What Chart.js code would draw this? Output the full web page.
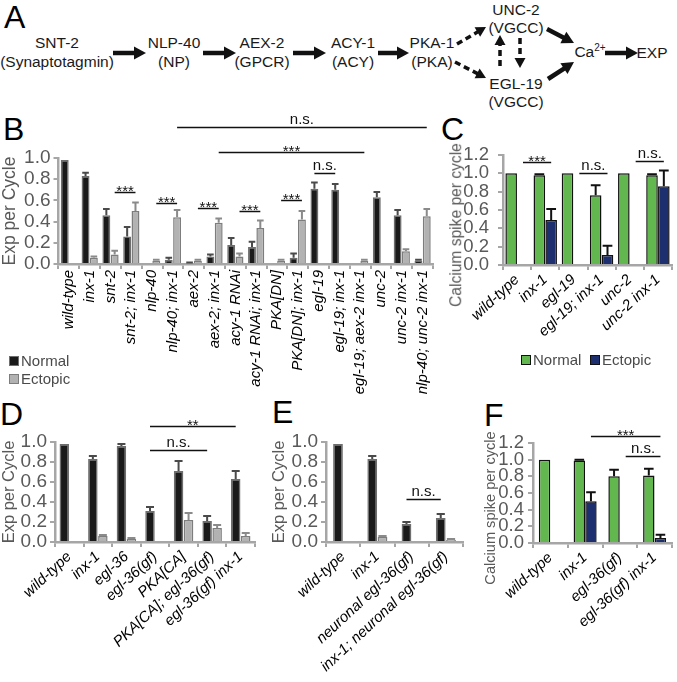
<!DOCTYPE html>
<html><head><meta charset="utf-8">
<script src="https://cdn.jsdelivr.net/npm/chart.js@4.4.1/dist/chart.umd.min.js"></script>
<style>
html,body{margin:0;padding:0;background:#fff;}
body{width:677px;height:682px;position:relative;overflow:hidden;font-family:"Liberation Sans",Arial,sans-serif;}
canvas{position:absolute;}
.lbl{position:absolute;transform:translate(-50%,-50%);white-space:nowrap;font-size:15.5px;line-height:1;color:#1a1a1a;}
.panel{position:absolute;font-size:32px;line-height:1;color:#000;}
.leg{position:absolute;font-size:15px;line-height:1;color:#4a4a4a;white-space:nowrap;}
.sq{position:absolute;width:8px;height:8px;}
.ytitle{position:absolute;transform:translate(-50%,-50%) rotate(-90deg);white-space:nowrap;line-height:1;color:#595959;}
svg{position:absolute;left:0;top:0;}
</style></head><body>
<svg id="diag" width="677" height="112"></svg>
<div class="panel" style="left:4px;top:1px">A</div>
<div class="lbl" style="left:57px;top:43px">SNT-2</div>
<div class="lbl" style="left:57px;top:62px">(Synaptotagmin)</div>
<div class="lbl" style="left:174px;top:43px">NLP-40</div>
<div class="lbl" style="left:174px;top:62px">(NP)</div>
<div class="lbl" style="left:262px;top:43px">AEX-2</div>
<div class="lbl" style="left:262px;top:62px">(GPCR)</div>
<div class="lbl" style="left:353px;top:43px">ACY-1</div>
<div class="lbl" style="left:353px;top:62px">(ACY)</div>
<div class="lbl" style="left:432px;top:43px">PKA-1</div>
<div class="lbl" style="left:432px;top:62px">(PKA)</div>
<div class="lbl" style="left:516px;top:10px">UNC-2</div>
<div class="lbl" style="left:516px;top:28px">(VGCC)</div>
<div class="lbl" style="left:516px;top:84px">EGL-19</div>
<div class="lbl" style="left:516px;top:102px">(VGCC)</div>
<div class="lbl" style="left:590px;top:52px">Ca<sup style="font-size:10px;vertical-align:6px;line-height:0">2+</sup></div>
<div class="lbl" style="left:652px;top:53px">EXP</div>

<div class="panel" style="left:3px;top:113px">B</div>
<div class="panel" style="left:441px;top:113px">C</div>
<div class="panel" style="left:0px;top:398px">D</div>
<div class="panel" style="left:272px;top:396px">E</div>
<div class="panel" style="left:484px;top:399px">F</div>

<canvas id="cB" width="445" height="290" style="left:0;top:110px"></canvas>
<canvas id="cC" width="230" height="290" style="left:447px;top:110px"></canvas>
<canvas id="cD" width="265" height="282" style="left:0;top:400px"></canvas>
<canvas id="cE" width="200" height="282" style="left:270px;top:400px"></canvas>
<canvas id="cF" width="197" height="282" style="left:480px;top:400px"></canvas>

<div class="ytitle" style="left:456px;top:225px;font-size:15.6px">Calcium spike per cycle</div>
<div class="ytitle" style="left:490px;top:508px;font-size:14.6px">Calcium spike per cycle</div>

<div class="sq" style="left:9px;top:356px;background:#1a1a1a;border:1.5px solid #6e6e6e"></div>
<div class="leg" style="left:21px;top:353px">Normal</div>
<div class="sq" style="left:9px;top:374px;background:#b2b2b2;border:1.5px solid #7d7d7d"></div>
<div class="leg" style="left:21px;top:371px">Ectopic</div>

<div class="sq" style="left:521px;top:355px;background:#62b74f;border:1.5px solid #111"></div>
<div class="leg" style="left:533px;top:352px">Normal</div>
<div class="sq" style="left:590px;top:355px;background:#1d2f6f;border:1.5px solid #111"></div>
<div class="leg" style="left:602px;top:352px">Ectopic</div>

<script>
// ---------- DATA ----------
const bCategories = ['wild-type','inx-1','snt-2','snt-2; inx-1','nlp-40','nlp-40; inx-1','aex-2','aex-2; inx-1','acy-1 RNAi','acy-1 RNAi; inx-1','PKA[DN]','PKA[DN]; inx-1','egl-19','egl-19; inx-1','egl-19; aex-2 inx-1','unc-2','unc-2 inx-1','nlp-40; unc-2 inx-1'];
const bNormal      = [0.98,0.83,0.46,0.26,0.00,0.04,0.01,0.07,0.18,0.16,0.00,0.06,0.71,0.70,0.00,0.63,0.46,0.03];
const bNormalErr   = [0,0.03,0.06,0.09,0,0.02,0.005,0.02,0.065,0.05,0,0.04,0.06,0.055,0,0.05,0.05,0.01];
const bEctopic     = [0,0.06,0.09,0.50,0.03,0.44,0.03,0.39,0.07,0.34,0.03,0.42,0,0,0.03,0,0.12,0.45];
const bEctopicErr  = [0,0.01,0.035,0.08,0.01,0.07,0.01,0.04,0.03,0.07,0.01,0.08,0,0,0.01,0,0.02,0.07];

const cCategories = ['wild-type','inx-1','egl-19','egl-19; inx-1','unc-2','unc-2 inx-1'];
const cNormal     = [1.00,0.98,1.00,0.76,1.00,0.98];
const cNormalErr  = [0,0.01,0,0.11,0,0.01];
const cEctopic    = [0,0.49,0,0.11,0,0.86];
const cEctopicErr = [0,0.12,0,0.10,0,0.17];

const dCategories = ['wild-type','inx-1','egl-36','egl-36(gf)','PKA[CA]','PKA[CA]; egl-36(gf)','egl-36(gf) inx-1'];
const dNormal     = [0.98,0.83,0.96,0.31,0.71,0.21,0.63];
const dNormalErr  = [0,0.03,0.02,0.04,0.10,0.05,0.08];
const dEctopic    = [0,0.06,0.03,0,0.22,0.14,0.06];
const dEctopicErr = [0,0.01,0.01,0,0.07,0.03,0.03];

const eCategories = ['wild-type','inx-1','neuronal egl-36(gf)','inx-1; neuronal egl-36(gf)'];
const eNormal     = [0.98,0.83,0.18,0.24];
const eNormalErr  = [0,0.03,0.02,0.04];
const eEctopic    = [0,0.05,0,0.02];
const eEctopicErr = [0,0.01,0,0.01];

const fCategories = ['wild-type','inx-1','egl-36(gf)','egl-36(gf) inx-1'];
const fNormal     = [1.00,0.99,0.80,0.81];
const fNormalErr  = [0,0.01,0.08,0.08];
const fEctopic    = [0,0.50,0,0.06];
const fEctopicErr = [0,0.11,0,0.04];

const seriesNames = ['Normal','Ectopic'];
const expMax = 1.0, calMax = 1.2, tickStep = 0.2;

// ---------- STYLE ----------
const FONT = '"Liberation Sans", Arial, sans-serif';
const AX = '#a6a6a6';
const grayStyle = [
  {bg:'#1a1a1a', border:'#6e6e6e', err:'#4a4a4a'},
  {bg:'#b2b2b2', border:'#7d7d7d', err:'#8a8a8a'}
];
const colorStyle = [
  {bg:'#62b74f', border:'#111111', err:'#111111'},
  {bg:'#1d2f6f', border:'#111111', err:'#111111'}
];

// ---------- DIAGRAM (panel A) ----------
const ns = 'http://www.w3.org/2000/svg';
const svg = document.getElementById('diag');
function arrow(x1,y1,x2,y2,dashed){
  const dx=x2-x1, dy=y2-y1, L=Math.hypot(dx,dy), ux=dx/L, uy=dy/L;
  const hl=dashed?10:12, hw=dashed?5.5:6.5;
  const bx=x2-ux*hl, by=y2-uy*hl;
  const ln=document.createElementNS(ns,'line');
  ln.setAttribute('x1',x1); ln.setAttribute('y1',y1);
  ln.setAttribute('x2',bx+ux*1); ln.setAttribute('y2',by+uy*1);
  ln.setAttribute('stroke','#111'); ln.setAttribute('stroke-width',dashed?3.5:4.5);
  if(dashed) ln.setAttribute('stroke-dasharray','6,4');
  svg.appendChild(ln);
  const p=document.createElementNS(ns,'polygon');
  p.setAttribute('points',`${x2},${y2} ${bx-uy*hw},${by+ux*hw} ${bx+uy*hw},${by-ux*hw}`);
  p.setAttribute('fill','#111');
  svg.appendChild(p);
}
arrow(113,53,146,53,false);
arrow(203,53,236,53,false);
arrow(293,53,326,53,false);
arrow(378,53,409,53,false);
arrow(605,53,638,53,false);
arrow(457,44,486,27,true);
arrow(455,62,486,78,true);
arrow(500,66,500,35,true);
arrow(520,38,520,68,true);
arrow(547,29,574,43,false);
arrow(548,79,574,62,false);

// ---------- PLUGINS ----------
const errPlugin = {id:'errbars', afterDatasetsDraw(chart){
  const ctx=chart.ctx, ys=chart.scales.y;
  chart.data.datasets.forEach((ds,i)=>{
    const meta=chart.getDatasetMeta(i);
    meta.data.forEach((el,j)=>{
      const e=ds.errors[j]; if(!e) return;
      const v=ds.data[j];
      const y0=ys.getPixelForValue(v), y1=ys.getPixelForValue(v+e);
      const hw=el.width*0.42;
      ctx.save(); ctx.strokeStyle=ds.errColor; ctx.lineWidth=2;
      ctx.beginPath(); ctx.moveTo(el.x,y0); ctx.lineTo(el.x,y1);
      ctx.moveTo(el.x-hw,y1); ctx.lineTo(el.x+hw,y1); ctx.stroke(); ctx.restore();
    });
  });
}};
const annotPlugin = {id:'annot', afterDraw(chart,args,opts){
  const ctx=chart.ctx, ys=chart.scales.y;
  (opts.items||[]).forEach(it=>{
    const xa=chart.getDatasetMeta(it.a[1]).data[it.a[0]].x;
    const xb=chart.getDatasetMeta(it.b[1]).data[it.b[0]].x;
    const py=Math.round(ys.getPixelForValue(it.y))+0.5;
    ctx.save(); ctx.strokeStyle='#111'; ctx.lineWidth=1.5;
    ctx.beginPath(); ctx.moveTo(xa,py); ctx.lineTo(xb,py); ctx.stroke();
    ctx.fillStyle='#111'; ctx.font='15px '+FONT; ctx.textAlign='center'; ctx.textBaseline='alphabetic';
    ctx.fillText(it.t,(xa+xb)/2, it.t.charAt(0)==='*' ? py+3 : py-4);
    ctx.restore();
  });
}};

function makeChart(id, cats, vals, errs, style, cfg){
  new Chart(document.getElementById(id), {
    type:'bar',
    data:{labels:cats, datasets: vals.map((d,i)=>({
      label:seriesNames[i], data:d, errors:errs[i],
      backgroundColor:style[i].bg, borderColor:style[i].border, borderWidth:cfg.bw,
      errColor:style[i].err, categoryPercentage:cfg.catPct, barPercentage:cfg.barPct
    }))},
    options:{
      responsive:false, animation:false,
      layout:{padding:{top:cfg.padTop,right:cfg.padRight,left:0,bottom:0}},
      plugins:{legend:{display:false}, tooltip:{enabled:false}, annot:{items:cfg.annot}},
      scales:{
        x:{ticks:{autoSkip:false,minRotation:cfg.rot,maxRotation:cfg.rot,
                  font:{size:cfg.xFont,style:'italic',family:FONT},color:'#000',padding:1},
           grid:{offset:true,drawOnChartArea:false,drawTicks:true,tickLength:5,color:AX,lineWidth:2},
           border:{display:true,color:AX,width:2.5},
           afterFit:s=>{s.height=cfg.xH;}},
        y:{min:0,max:cfg.max,
           ticks:{autoSkip:false,stepSize:tickStep,callback:v=>Number(v).toFixed(1),font:{size:cfg.yFont,family:FONT},color:'#595959',padding:cfg.yPad},
           grid:{drawOnChartArea:false,drawTicks:true,tickLength:5,color:AX,lineWidth:2},
           border:{display:true,color:AX,width:2.5},
           title:{display:!!cfg.yTitle,text:cfg.yTitle||'',color:'#595959',font:{size:cfg.titleFont,family:FONT},padding:0},
           afterFit:s=>{s.width=cfg.yW;}}
      }
    },
    plugins:[errPlugin, annotPlugin]
  });
}

makeChart('cB', bCategories, [bNormal,bEctopic], [bNormalErr,bEctopicErr], grayStyle, {
  bw:1.5, catPct:0.8, barPct:0.95, padTop:48, padRight:12, rot:90, xFont:15, xH:136,
  max:expMax, yFont:19, yPad:3, yTitle:'Exp per Cycle', titleFont:17.5, yW:58.5,
  annot:[
    {a:[5,1],b:[17,1],y:1.29,t:'n.s.'},
    {a:[7,1],b:[14,1],y:1.06,t:'***'},
    {a:[12,0],b:[13,0],y:0.86,t:'n.s.'},
    {a:[2,1],b:[3,1],y:0.68,t:'***'},
    {a:[4,1],b:[5,1],y:0.58,t:'***'},
    {a:[6,1],b:[7,1],y:0.525,t:'***'},
    {a:[8,1],b:[9,1],y:0.50,t:'***'},
    {a:[10,1],b:[11,1],y:0.60,t:'***'}
  ]});

makeChart('cC', cCategories, [cNormal,cEctopic], [cNormalErr,cEctopicErr], colorStyle, {
  bw:1.5, catPct:0.84, barPct:0.98, padTop:45, padRight:5, rot:43, xFont:15, xH:135,
  max:calMax, yFont:18.5, yPad:9, yTitle:'', titleFont:15.6, yW:56,
  annot:[
    {a:[0,1],b:[1,1],y:1.125,t:'***'},
    {a:[2,1],b:[3,1],y:1.0,t:'n.s.'},
    {a:[4,1],b:[5,1],y:1.135,t:'n.s.'}
  ]});

makeChart('cD', dCategories, [dNormal,dEctopic], [dNormalErr,dEctopicErr], grayStyle, {
  bw:1.5, catPct:0.7, barPct:0.95, padTop:42, padRight:10, rot:43, xFont:15, xH:140,
  max:expMax, yFont:19, yPad:3, yTitle:'Exp per Cycle', titleFont:16.5, yW:55,
  annot:[
    {a:[3,0],b:[6,0],y:1.16,t:'**'},
    {a:[3,0],b:[5,0],y:0.92,t:'n.s.'}
  ]});

makeChart('cE', eCategories, [eNormal,eEctopic], [eNormalErr,eEctopicErr], grayStyle, {
  bw:1.5, catPct:0.6, barPct:0.95, padTop:42, padRight:7, rot:43, xFont:15, xH:140,
  max:expMax, yFont:19, yPad:3, yTitle:'Exp per Cycle', titleFont:16.5, yW:56,
  annot:[
    {a:[2,0],b:[3,0],y:0.43,t:'n.s.'}
  ]});

makeChart('cF', fCategories, [fNormal,fEctopic], [fNormalErr,fEctopicErr], colorStyle, {
  bw:1.5, catPct:0.67, barPct:0.98, padTop:43, padRight:5, rot:43, xFont:15, xH:139,
  max:calMax, yFont:18.5, yPad:4, yTitle:'', titleFont:14.6, yW:53,
  annot:[
    {a:[1,1],b:[3,1],y:1.284,t:'***'},
    {a:[2,1],b:[3,1],y:1.044,t:'n.s.'}
  ]});
</script>
</body></html>
